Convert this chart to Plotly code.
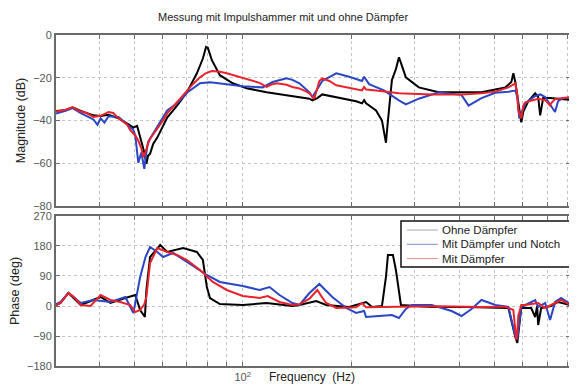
import numpy as np
import plotly.graph_objects as go

# ---------------- data ----------------
# Magnitude (dB)
f_mag_ohne = [30.3, 32.2, 33.7, 35.5, 38.5, 40.3, 42.4, 45.2, 47.8, 49.7, 50.9, 51.9, 53.3, 54.0, 54.6, 55.3,
              56.4, 57.9, 61.7, 65.7, 70.0, 74.6, 77.5, 79.1, 80.0, 82.1, 86.4, 93.8, 102.6, 116.5, 137.4,
              153.2, 156.1, 161.1, 166.3, 181.9, 206.5, 214.5, 217.3, 220.1, 234.5, 243.6, 249.9, 253.1,
              259.6, 266.3, 271.5, 275.0, 283.8, 308.3, 350.1, 460.3, 536.3, 557.2, 564.3, 571.5, 582.5,
              593.7, 601.2, 620.6, 648.9, 661.4, 669.9, 682.8, 713.8, 775.3, 810.7]
mag_ohne = [-35.5, -35.2, -33.8, -35.5, -37.6, -37.9, -37.3, -39.0, -41.5, -43.3, -42.5, -48.0, -55.0, -60.2,
            -56.5, -55.5, -51.0, -48.0, -38.6, -33.0, -26.8, -17.9, -11.0, -5.6, -6.0, -11.8, -18.8, -22.6,
            -24.9, -26.8, -28.7, -29.8, -30.6, -29.5, -27.8, -29.0, -31.0, -32.0, -30.5, -32.0, -35.3, -40.0,
            -50.4, -40.0, -21.0, -16.0, -10.4, -13.0, -19.8, -24.5, -26.8, -26.8, -24.5, -22.0, -17.9, -22.0,
            -32.0, -40.9, -36.0, -31.0, -27.3, -29.0, -37.6, -29.5, -29.5, -29.8, -30.3]

f_mag_notch = [30.3, 32.2, 33.7, 35.5, 38.5, 39.5, 40.3, 41.3, 42.4, 45.2, 47.8, 49.7, 50.3, 50.9, 51.3, 52.3,
               53.3, 54.0, 54.6, 57.9, 61.7, 65.7, 70.0, 76.1, 81.1, 90.3, 100.0, 113.6, 121.0, 132.3, 137.4,
               143.7, 153.2, 156.1, 161.1, 166.3, 181.9, 197.5, 214.5, 217.3, 224.3, 246.7, 271.5, 283.8,
               308.3, 350.1, 405.0, 423.6, 460.3, 503.0, 546.7, 571.5, 578.8, 586.2, 608.9, 648.9, 669.9,
               691.6, 736.8, 751.0, 775.3, 810.7]
mag_notch = [-36.7, -35.5, -34.2, -36.5, -39.5, -42.0, -39.0, -41.0, -38.0, -38.3, -42.0, -44.5, -47.0, -55.0,
             -59.8, -55.0, -62.6, -55.0, -50.0, -42.9, -35.3, -32.0, -27.0, -22.6, -22.1, -23.0, -24.0, -24.5,
             -22.0, -20.2, -21.0, -22.6, -26.8, -29.0, -25.0, -21.5, -17.9, -19.5, -21.5, -19.5, -23.0, -25.9,
             -30.6, -32.5, -29.8, -26.8, -28.0, -33.0, -29.5, -27.0, -26.5, -26.0, -29.0, -39.0, -32.0, -28.5,
             -27.8, -29.0, -36.0, -31.0, -29.5, -29.5]

f_mag_mit = [30.3, 32.2, 33.7, 35.5, 36.8, 38.5, 40.3, 42.4, 43.7, 45.2, 47.8, 48.7, 50.3, 51.3, 52.3, 52.9,
             53.3, 54.0, 54.6, 55.3, 57.9, 60.1, 61.7, 63.7, 65.7, 70.0, 72.7, 76.1, 79.1, 82.1, 86.4, 90.3,
             96.2, 102.6, 111.4, 116.5, 121.0, 124.2, 132.3, 137.4, 143.7, 150.3, 153.2, 158.1, 161.1, 163.2,
             166.3, 173.9, 181.9, 193.8, 210.5, 214.5, 217.3, 220.1, 234.5, 271.5, 334.9, 405.0, 460.3, 503.0,
             546.7, 571.5, 578.8, 582.5, 593.7, 601.2, 608.9, 661.4, 691.6, 713.8, 718.4, 736.8, 775.3, 810.7]
mag_mit = [-35.8, -35.0, -33.8, -35.8, -36.5, -38.3, -37.8, -36.0, -36.5, -39.0, -42.0, -44.5, -47.0, -49.5,
           -53.0, -57.0, -56.5, -53.0, -50.8, -48.5, -43.8, -40.0, -36.7, -34.0, -31.5, -26.0, -23.0, -19.8,
           -17.8, -16.9, -17.2, -17.9, -19.3, -20.4, -22.4, -24.3, -23.0, -22.6, -23.3, -24.3, -25.0, -26.5,
           -27.3, -29.8, -25.0, -21.5, -20.3, -21.5, -23.5, -24.5, -25.5, -25.9, -24.3, -25.5, -26.0, -27.3,
           -27.8, -27.8, -27.3, -26.5, -24.5, -22.6, -28.0, -35.3, -39.0, -33.0, -31.5, -29.8, -30.5, -33.0,
           -32.0, -30.0, -29.5, -29.0]

# Phase (deg)
f_ph_ohne = [30.3, 31.2, 32.8, 35.5, 40.3, 42.9, 47.2, 50.3, 51.9, 53.5, 54.0, 55.3, 59.0, 61.7, 68.3, 74.6,
             77.5, 79.5, 81.1, 86.4, 100.0, 116.5, 137.4, 143.7, 160.0, 170.6, 197.5, 220.1, 228.7, 243.6,
             249.9, 253.1, 261.3, 266.3, 275.0, 334.9, 416.0, 546.7, 571.5, 578.8, 593.7, 632.6, 648.9,
             657.0, 661.4, 674.2, 718.4, 751.0, 810.7]
ph_ohne = [3, 9, 39, 3, 27, 9, 24, 33, -12, -33, 48, 147, 183, 162, 174, 162, 138, 57, 24, 6, 3, 9, 0, 3, 15,
           3, -3, 12, -3, 0, 87, 153, 153, 108, 3, -3, -3, -6, -93, -111, -6, -6, -33, 0, -57, -6, 0, 12, 3]

f_ph_notch = [30.3, 31.2, 32.8, 35.5, 38.5, 42.9, 47.2, 49.7, 51.9, 53.7, 55.3, 57.9, 60.1, 64.1, 70.0, 79.5,
              86.4, 100.0, 111.4, 118.7, 126.5, 137.4, 143.7, 153.2, 163.2, 177.3, 193.8, 206.5, 217.3, 220.1,
              239.0, 259.6, 271.5, 283.8, 294.9, 334.9, 380.2, 405.2, 431.9, 460.3, 503.1, 546.7, 571.5,
              578.8, 593.7, 648.9, 661.4, 691.6, 713.8, 737.0, 766.0, 810.7]
ph_notch = [6, 12, 39, 9, 18, 12, 27, -21, 87, 147, 177, 162, 147, 159, 132, 93, 72, 60, 48, 57, 33, 9, 3, 39,
            66, 27, -6, -21, -15, -33, -30, -27, -36, -9, 3, 3, -15, -30, -9, 18, 3, -3, -90, -99, -3, 18, -3,
            9, -42, 12, 24, 6]

f_ph_mit = [30.3, 31.2, 32.8, 34.0, 35.5, 37.8, 40.3, 42.9, 45.7, 48.7, 50.3, 51.9, 53.3, 54.0, 55.3, 57.9,
            61.7, 65.7, 70.0, 76.1, 82.6, 90.3, 100.0, 111.4, 117.3, 126.5, 137.4, 143.7, 153.2, 161.1, 166.3,
            170.6, 181.9, 206.5, 214.5, 220.1, 271.5, 350.1, 460.3, 536.3, 564.3, 571.5, 575.1, 578.8, 582.5,
            593.7, 608.9, 661.4, 691.6, 737.0, 766.0, 810.7]
ph_mit = [3, 9, 39, 27, 3, 0, 33, 18, 12, 3, -18, -12, 5, 27, 129, 174, 162, 153, 138, 108, 72, 48, 30, 24, 30,
          12, 3, 5, 22, 48, 25, 9, -6, -4, 9, -4, -2, -1, -3, -2, -12, -60, -102, -80, -30, 3, 3, 9, -6, 9,
          18, 3]

series_names = ["Ohne Dämpfer", "Mit Dämpfer und Notch", "Mit Dämpfer"]
x_major_vals = [100]
x_major_text = ["10<sup>2</sup>"]
x_minor_vals = [30, 40, 50, 60, 70, 80, 90, 200, 300, 400, 500, 600, 700, 800]

# ---------------- figure ----------------
colors = ["#000000", "#2a46c4", "#e8232b"]
legend_colors = ["#a8a8a8", "#7f8fcf", "#e88a8a"]

mag_data = [(f_mag_ohne, mag_ohne), (f_mag_notch, mag_notch), (f_mag_mit, mag_mit)]
ph_data = [(f_ph_ohne, ph_ohne), (f_ph_notch, ph_notch), (f_ph_mit, ph_mit)]

fig = go.Figure()
for (fx, fy), c, n in zip(mag_data, colors, series_names):
    fig.add_trace(go.Scatter(x=fx, y=fy, mode="lines", line=dict(color=c, width=2), name=n,
                             xaxis="x", yaxis="y", showlegend=False))
for (fx, fy), c, n in zip(ph_data, colors, series_names):
    fig.add_trace(go.Scatter(x=fx, y=fy, mode="lines", line=dict(color=c, width=2), name=n,
                             xaxis="x2", yaxis="y2", showlegend=False))

axcol = "#6a6a6a"
gridcol = "#c4c4c4"
font = "Liberation Sans, Arial, sans-serif"
common_x = dict(type="log", range=[np.log10(30.3), np.log10(810.7)], tickvals=x_major_vals,
                ticktext=x_major_text, showgrid=True, gridcolor=gridcol, griddash="dot", gridwidth=1,
                minor=dict(tickvals=x_minor_vals, showgrid=True, gridcolor=gridcol, griddash="dot",
                           gridwidth=1, ticks="inside", ticklen=4, tickcolor=axcol),
                showline=True, linecolor=axcol, linewidth=2, mirror="ticks", ticks="inside",
                ticklen=4, tickcolor=axcol, zeroline=False)
common_y = dict(showgrid=True, gridcolor=gridcol, griddash="dot", gridwidth=1, showline=True,
                linecolor=axcol, linewidth=2, mirror="ticks", ticks="inside", ticklen=4,
                tickcolor=axcol, zeroline=False, tickfont=dict(size=11, color="#555555"))

# The page body adds an 8px offset, so the figure is 8px smaller and margins reduced accordingly
fig.update_layout(
    width=569, height=380,
    margin=dict(l=47, r=5, t=27, b=14),
    paper_bgcolor="white", plot_bgcolor="white",
    font=dict(family=font, size=12, color="#222222"),
    xaxis=dict(domain=[0, 1], anchor="y", showticklabels=False, **common_x),
    xaxis2=dict(domain=[0, 1], anchor="y2", matches="x", showticklabels=True,
                tickfont=dict(size=11, color="#555555"), **common_x),
    yaxis=dict(domain=[0.4834, 1], anchor="x", range=[-80, 0], dtick=20,
               title=dict(text="Magnitude (dB)", standoff=5, font=dict(size=12.5, color="#222222")),
               **common_y),
    yaxis2=dict(domain=[0, 0.4532], anchor="x2", range=[-180, 270], tickvals=[-180, -90, 0, 90, 180, 270],
                title=dict(text="Phase (deg)", standoff=5, font=dict(size=12.5, color="#222222")),
                **common_y),
    showlegend=False,
)

# Legend drawn by hand (MATLAB style compact box)
def px_x(X):
    return (X - 55) / 517.0

def px_y(Y):
    return (366 - Y) / 331.0

fig.add_shape(type="rect", xref="paper", yref="paper", x0=px_x(402), x1=px_x(572.5), y0=px_y(267),
              y1=px_y(221), line=dict(color="#111111", width=1.5), fillcolor="white", layer="above")
for i, (name, lc) in enumerate(zip(series_names, legend_colors)):
    yy = px_y(230 + i * 14.3)
    fig.add_shape(type="line", xref="paper", yref="paper", x0=px_x(408), x1=px_x(439), y0=yy, y1=yy,
                  line=dict(color=lc, width=1), layer="above")
    fig.add_annotation(text=name, xref="paper", yref="paper", x=px_x(441), y=yy, showarrow=False,
                       xanchor="left", yanchor="middle", font=dict(size=11.5, color="#222222"))

fig.add_annotation(text="Messung mit Impulshammer mit und ohne Dämpfer", xref="paper", yref="paper",
                   x=0.441, y=px_y(17), showarrow=False, font=dict(size=11, color="#222222"),
                   xanchor="center", yanchor="middle")
fig.add_annotation(text="Frequency  (Hz)", xref="paper", yref="paper", x=px_x(312), y=px_y(377),
                   showarrow=False, font=dict(size=12, color="#222222"), xanchor="center", yanchor="middle")

fig.write_html("out.html")
